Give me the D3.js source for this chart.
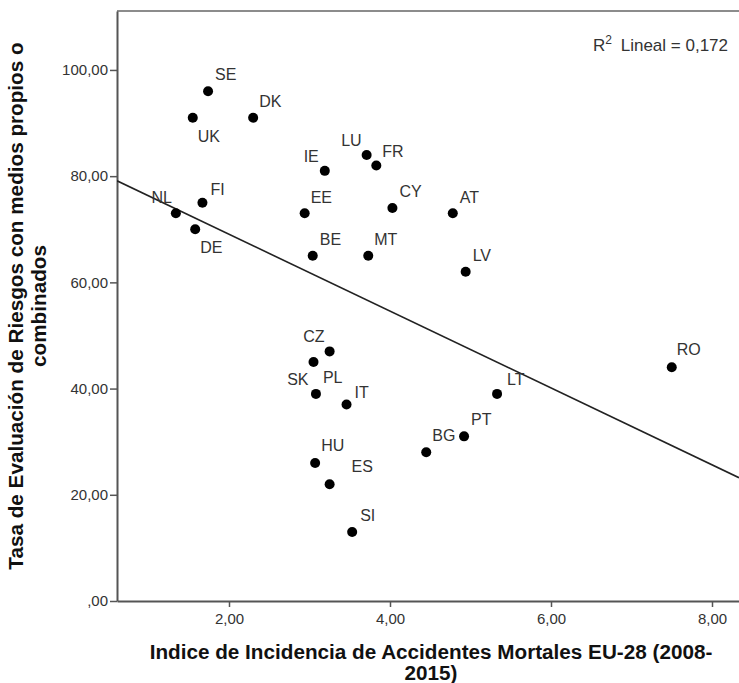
<!DOCTYPE html>
<meta charset="utf-8">
<script src="https://d3js.org/d3.v7.min.js"></script>
<style>
  body { margin: 0; background: #fff; }
  text { font-family: "Liberation Sans", Arial, sans-serif; }
</style>
<div id="chart"></div>
<script>
// country codes and values
var countries = ["SE","UK","DK","NL","FI","DE","IE","LU","FR","EE","CY","AT","BE","MT","LV",
                 "CZ","SK","PL","IT","HU","ES","BG","PT","LT","RO","SI"];
var incidence = [1.74,1.55,2.30,1.34,1.67,1.58,3.19,3.71,3.83,2.94,4.03,4.78,3.04,3.73,4.94,
                 3.25,3.05,3.08,3.46,3.07,3.25,4.45,4.92,5.33,7.50,3.53];
var evaluation = [96,91,91,73,75,70,81,84,82,73,74,73,65,65,62,
                  47,45,39,37,26,22,28,31,39,44,13];
var xTicks = [2, 4, 6, 8];
var yTicks = [0, 20, 40, 60, 80, 100];
var r2Text = "0,172";

// label placement next to each dot (layout only)
var labelPos = {
  SE:[7,-11,"start"], UK:[5,24,"start"], DK:[6,-11,"start"], NL:[-4,-10,"end"],
  FI:[8,-8,"start"], DE:[5,24,"start"], IE:[-6,-9,"end"], LU:[-5,-9,"end"],
  FR:[6,-9,"start"], EE:[6,-10,"start"], CY:[7,-11,"start"], AT:[7,-10,"start"],
  BE:[7,-11,"start"], MT:[6,-11,"start"], LV:[7,-11,"start"], CZ:[-5,-9,"end"],
  SK:[-5,23,"end"], PL:[7,-11,"start"], IT:[8,-7,"start"], HU:[6,-12,"start"],
  ES:[22,-12,"start"], BG:[6,-11,"start"], PT:[7,-11,"start"], LT:[10,-9,"start"],
  RO:[5,-12,"start"], SI:[8,-11,"start"]
};

var data = countries.map(function(c, i) {
  return {code: c, x: incidence[i], y: evaluation[i]};
});

var W = 739, H = 683;
var margin = {top: 11, right: 0, bottom: 82, left: 117},
    width = W - margin.left - margin.right,
    height = H - margin.top - margin.bottom;

var svg = d3.select("#chart").append("svg")
    .attr("width", W).attr("height", H);
var g = svg.append("g")
    .attr("transform", "translate(" + margin.left + "," + margin.top + ")");

var x = d3.scaleLinear().domain([0.6087, 8.3354]).range([0, width]);
var y = d3.scaleLinear().domain([0, 111.1]).range([height, 0]);

var fmt = function(d) {
  var s = d3.format(".2f")(d).replace(".", ",");
  return s.indexOf("0,") === 0 ? s.slice(1) : s;
};

// top frame line
g.append("line")
  .attr("x1", 0).attr("x2", width).attr("y1", 0).attr("y2", 0)
  .style("stroke", "#8c8c8c").style("stroke-width", 2);

// axes
var xAxis = g.append("g")
  .attr("transform", "translate(0," + height + ")")
  .call(d3.axisBottom(x).tickValues(xTicks).tickFormat(fmt).tickSize(6).tickSizeOuter(0).tickPadding(6));
var yAxis = g.append("g")
  .call(d3.axisLeft(y).tickValues(yTicks).tickFormat(fmt).tickSize(7).tickSizeOuter(0).tickPadding(2));

[xAxis, yAxis].forEach(function(a) {
  a.select(".domain").style("stroke", "#555").style("stroke-width", 2);
  a.selectAll(".tick line").style("stroke", "#555").style("stroke-width", 1.5);
  a.selectAll(".tick text")
    .style("font-size", "15px")
    .style("fill", "#333")
    .style("font-family", "'Liberation Sans', Arial, sans-serif");
});

// regression line (least squares from the points)
var mx = d3.mean(data, function(d) { return d.x; }),
    my = d3.mean(data, function(d) { return d.y; });
var sxy = d3.sum(data, function(d) { return (d.x - mx) * (d.y - my); }),
    sxx = d3.sum(data, function(d) { return (d.x - mx) * (d.x - mx); });
var slope = sxy / sxx, icpt = my - slope * mx;
var xd = x.domain();

g.append("clipPath").attr("id", "clip")
  .append("rect").attr("width", width).attr("height", height);

g.append("line")
  .attr("clip-path", "url(#clip)")
  .attr("x1", x(xd[0])).attr("y1", y(icpt + slope * xd[0]))
  .attr("x2", x(xd[1])).attr("y2", y(icpt + slope * xd[1]))
  .style("stroke", "#222").style("stroke-width", 1.6);

// points
g.selectAll(".dot")
  .data(data)
  .enter().append("circle")
    .attr("class", "dot")
    .attr("cx", function(d) { return x(d.x); })
    .attr("cy", function(d) { return y(d.y); })
    .attr("r", 5)
    .style("fill", "#000");

// point labels
g.selectAll(".lbl")
  .data(data)
  .enter().append("text")
    .attr("class", "lbl")
    .attr("x", function(d) { return x(d.x) + labelPos[d.code][0]; })
    .attr("y", function(d) { return y(d.y) + labelPos[d.code][1]; })
    .attr("text-anchor", function(d) { return labelPos[d.code][2]; })
    .style("font-size", "16px")
    .style("fill", "#333")
    .text(function(d) { return d.code; });

// R2 note
var r2 = g.append("text")
  .attr("x", width - 11).attr("y", 40)
  .attr("text-anchor", "end")
  .style("font-size", "17px")
  .style("fill", "#333");
r2.append("tspan").text("R");
r2.append("tspan").attr("dy", -7).style("font-size", "12px").text("2");
r2.append("tspan").attr("dy", 7).attr("dx", 4).text("\u00a0Lineal = " + r2Text);

// axis titles
var xt = svg.append("text")
  .attr("text-anchor", "middle")
  .style("font-size", "20.7px").style("font-weight", "bold").style("fill", "#111");
xt.append("tspan").attr("x", 431).attr("y", 659).text("Indice de Incidencia de Accidentes Mortales EU-28 (2008-");
xt.append("tspan").attr("x", 431).attr("dy", 21).text("2015)");

var yt = svg.append("text")
  .attr("text-anchor", "middle")
  .attr("transform", "translate(0,306) rotate(-90)")
  .style("font-size", "20.7px").style("font-weight", "bold").style("fill", "#111");
yt.append("tspan").attr("x", 0).attr("y", 23).text("Tasa de Evaluación de Riesgos con medios propios o");
yt.append("tspan").attr("x", 0).attr("dy", 23).text("combinados");
</script>
